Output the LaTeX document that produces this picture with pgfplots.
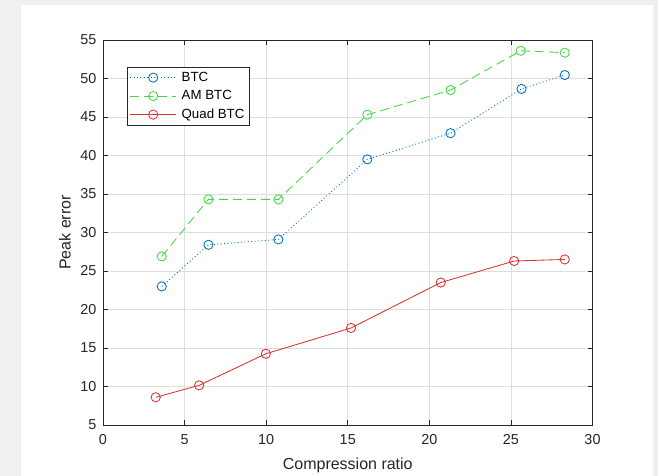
\documentclass[border=0pt]{standalone}
\usepackage{fontspec}
\setmainfont{Liberation Sans}
\usepackage{pgfplots}
\pgfplotsset{compat=1.18}
\definecolor{bgray}{RGB}{240,240,240}
\definecolor{axc}{RGB}{38,38,38}
\definecolor{mblue}{rgb}{0,0.447,0.741}
\definecolor{mgreen}{rgb}{0.25,0.85,0.25}
\definecolor{mred}{rgb}{0.85,0.2,0.2}
\begin{document}
\begin{tikzpicture}[x=1pt,y=1pt]
\useasboundingbox (0,0) rectangle (658,476);
\fill[bgray] (0,0) rectangle (658,476);
\fill[white] (21,0) rectangle (653,471);
\begin{axis}[
  at={(103pt,51pt)}, anchor=south west,
  scale only axis, width=489.5pt, height=385pt,
  xmin=0, xmax=30, ymin=5, ymax=55,
  xtick={0,5,...,30}, ytick={5,10,...,55},
  grid=major,
  major grid style={color=black!13, line width=0.6pt},
  axis line style={color=axc, line width=0.7pt},
  tick style={color=axc, line width=0.7pt},
  major tick length=5pt,
  tick align=inside,
  /pgf/number format/assume math mode=true,
  ticklabel style={font=\fontsize{14.4}{17}\selectfont, text=axc},
  xticklabel style={yshift=-6pt},
  yticklabel style={xshift=-3pt},
  xlabel={Compression ratio}, ylabel={Peak error},
  label style={font=\fontsize{16}{19}\selectfont, text=axc},
  xlabel style={at={(axis description cs:0.5,-0.1039)}, anchor=center},
  ylabel style={at={(axis description cs:-0.0776,0.5)}, anchor=center},
  legend style={at={(0.049,0.930)}, anchor=north west, draw=axc, fill=white,
    font=\fontsize{13.3}{15}\selectfont, inner xsep=2.5pt, inner ysep=3pt, row sep=3.6pt,
    line width=0.6pt, /tikz/every odd column/.append style={column sep=3pt}},
  legend cell align=left,
  legend image code/.code={\draw[mark repeat=2,mark phase=2,#1] plot coordinates {(0pt,0pt) (23pt,0pt) (46pt,0pt)};},
  every axis plot/.append style={line width=0.85pt, mark size=4.6pt},
]
\addplot[color=mblue, dash pattern=on 1pt off 2.4pt, mark=o, mark options={solid}] coordinates {
 (3.6,23.0) (6.46,28.4) (10.75,29.1) (16.2,39.5) (21.3,42.9) (25.65,48.65) (28.3,50.45)};
\addlegendentry{BTC}
\addplot[color=mgreen, dash pattern=on 9pt off 5pt, mark=o, mark options={solid}] coordinates {
 (3.6,26.9) (6.46,34.3) (10.75,34.3) (16.2,45.3) (21.3,48.5) (25.6,53.6) (28.3,53.35)};
\addlegendentry{AM BTC}
\addplot[color=mred, mark=o, mark options={solid}] coordinates {
 (3.23,8.6) (5.89,10.15) (9.98,14.25) (15.2,17.6) (20.7,23.5) (25.2,26.3) (28.3,26.5)};
\addlegendentry{Quad BTC}
\end{axis}
\end{tikzpicture}
\end{document}
